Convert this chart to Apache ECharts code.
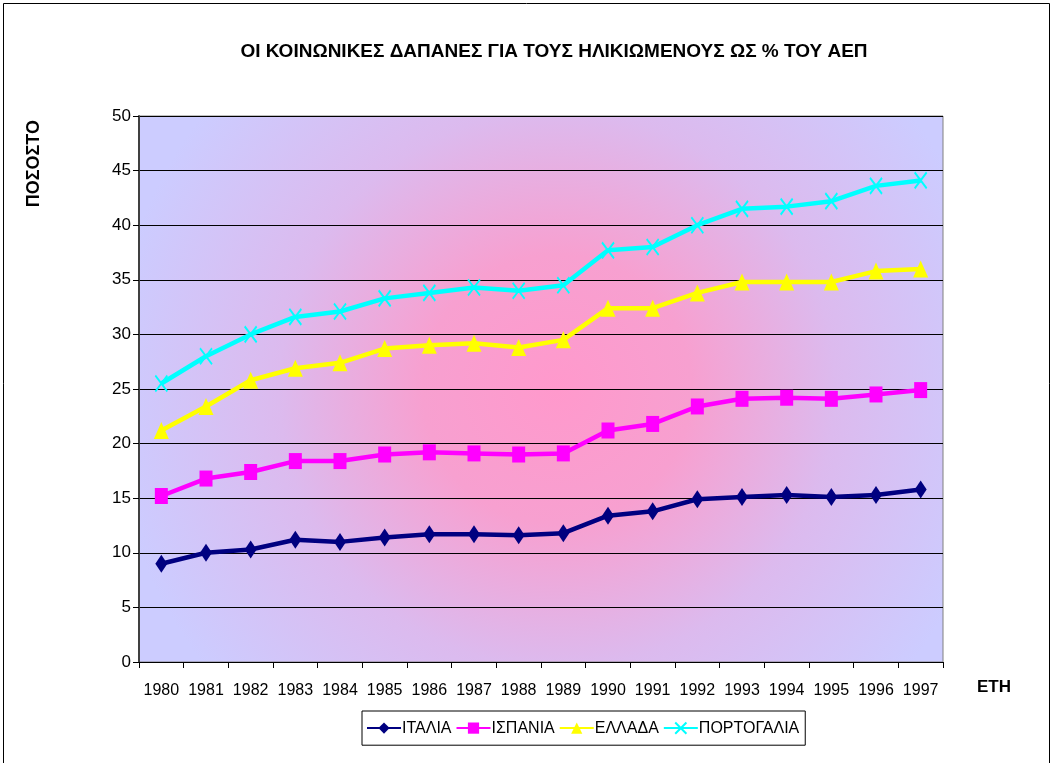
<!DOCTYPE html>
<html>
<head>
<meta charset="utf-8">
<script src="https://cdn.jsdelivr.net/npm/echarts@6/dist/echarts.min.js"></script>
<style>
    html, body { margin: 0; padding: 0; background: #fff; }
    #main { width: 1056px; height: 763px; }
</style>
</head>
<body>
<div id="main"></div>
<script>
// 数据
var years = ['1980', '1981', '1982', '1983', '1984', '1985', '1986', '1987', '1988',
    '1989', '1990', '1991', '1992', '1993', '1994', '1995', '1996', '1997'];
var italia = [9.0, 10.0, 10.3, 11.2, 11.0, 11.4, 11.7, 11.7, 11.6, 11.8, 13.4, 13.8, 14.9, 15.1, 15.3, 15.1, 15.3, 15.8];
var ispania = [15.2, 16.8, 17.4, 18.4, 18.4, 19.0, 19.2, 19.1, 19.0, 19.1, 21.2, 21.8, 23.4, 24.1, 24.2, 24.1, 24.5, 24.9];
var ellada = [21.2, 23.4, 25.8, 26.9, 27.4, 28.7, 29.0, 29.2, 28.8, 29.5, 32.4, 32.4, 33.8, 34.8, 34.8, 34.8, 35.8, 36.0];
var portogalia = [25.5, 28.0, 30.0, 31.6, 32.1, 33.3, 33.8, 34.3, 34.0, 34.5, 37.7, 38.0, 40.0, 41.5, 41.7, 42.2, 43.6, 44.1];
var yTicks = [0, 5, 10, 15, 20, 25, 30, 35, 40, 45, 50];

;(function (window, document) {
    var font = '"Liberation Sans", Arial, sans-serif';
    var myChart = echarts.init(document.getElementById('main'));

    function line(name, data, color, symbol, size) {
        var s = {
            name: name,
            type: 'line',
            data: data,
            symbol: symbol,
            symbolSize: size,
            showAllSymbol: true,
            lineStyle: { color: color, width: 4.5 },
            itemStyle: { color: color }
        };
        if (symbol.indexOf('path://') === 0) {
            // X 形标记只有描边
            s.itemStyle = { color: 'none', borderColor: color, borderWidth: 2 };
        }
        return s;
    }

    var option = {
        backgroundColor: '#fff',
        animation: false,
        title: {
            text: 'ΟΙ ΚΟΙΝΩΝΙΚΕΣ ΔΑΠΑΝΕΣ ΓΙΑ ΤΟΥΣ ΗΛΙΚΙΩΜΕΝΟΥΣ ΩΣ % ΤΟΥ ΑΕΠ',
            left: 549,
            textAlign: 'center',
            top: 37,
            textStyle: { fontFamily: font, fontSize: 19, fontWeight: 'bold', color: '#000' }
        },
        color: ['#000080', '#ff00ff', '#ffff00', '#00ffff'],
        legend: {
            left: 362,
            top: 711,
            itemWidth: 34,
            itemHeight: 14,
            itemGap: 4,
            padding: [9, 6, 9, 4],
            borderColor: '#000',
            borderWidth: 1,
            textStyle: { fontFamily: font, fontSize: 16, color: '#000', padding: [0, 0, 0, -4] },
            data: ['ΙΤΑΛΙΑ', 'ΙΣΠΑΝΙΑ', 'ΕΛΛΑΔΑ', 'ΠΟΡΤΟΓΑΛΙΑ']
        },
        grid: {
            left: 139,
            right: 113,
            top: 116,
            bottom: 101,
            show: true,
            borderColor: '#808080',
            borderWidth: 1,
            backgroundColor: new echarts.graphic.RadialGradient(0.52, 0.5, 0.82, [
                { offset: 0, color: '#ff99cc' },
                { offset: 0.3, color: '#f7a0d0' },
                { offset: 0.62, color: '#dcbaee' },
                { offset: 1, color: '#ccccff' }
            ])
        },
        xAxis: {
            type: 'category',
            data: years,
            boundaryGap: true,
            axisLine: { lineStyle: { color: '#000', width: 1 } },
            axisTick: { show: true, length: 6, lineStyle: { color: '#000' } },
            axisLabel: { interval: 0, fontFamily: font, fontSize: 16, color: '#000', margin: 21 }
        },
        yAxis: {
            type: 'value',
            min: yTicks[0],
            max: yTicks[yTicks.length - 1],
            interval: 5,
            axisLine: { show: true, lineStyle: { color: '#404040', width: 2 } },
            axisTick: { show: true, length: 6, lineStyle: { color: '#000' } },
            axisLabel: { fontFamily: font, fontSize: 17, color: '#000', margin: 8 },
            splitLine: { lineStyle: { color: '#000', width: 1 } }
        },
        graphic: [
            {
                type: 'rect',
                left: 1, top: 1,
                shape: { width: 1046, height: 770 },
                style: { fill: 'none', stroke: '#000', lineWidth: 1 },
                silent: true
            },
            {
                type: 'text',
                left: 25, top: 120,
                rotation: Math.PI / 2,
                style: { text: 'ΠΟΣΟΣΤΟ', fontFamily: font, fontSize: 18, fontWeight: 'bold', fill: '#000' }
            },
            {
                type: 'text',
                left: 977, top: 679,
                style: { text: 'ΕΤΗ', fontFamily: font, fontSize: 17, fontWeight: 'bold', fill: '#000' }
            }
        ],
        series: [
            line('ΙΤΑΛΙΑ', italia, '#000080', 'diamond', [12, 18]),
            line('ΙΣΠΑΝΙΑ', ispania, '#ff00ff', 'rect', [13, 16]),
            line('ΕΛΛΑΔΑ', ellada, '#ffff00', 'triangle', [15, 17]),
            line('ΠΟΡΤΟΓΑΛΙΑ', portogalia, '#00ffff', 'path://M0,0L10,14M10,0L0,14', [12, 16])
        ]
    };

    myChart.setOption(option);
})(window, document);
</script>
</body>
</html>
